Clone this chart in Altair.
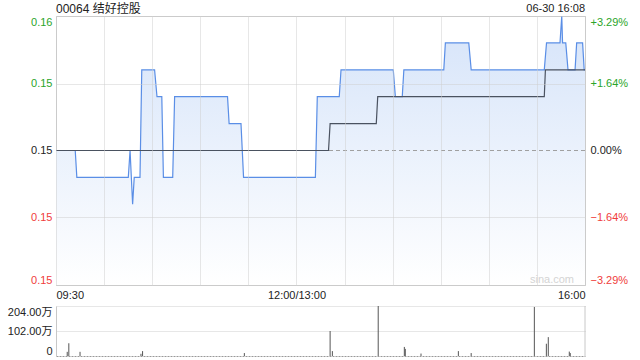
import altair as alt
import pandas as pd

FONT = "Liberation Sans, Arial, Noto Sans CJK SC"
GREEN = "#2aa52a"
RED = "#f03c3c"
BLACK = "#222222"
GRID = "#cfcfcf"

prev_close = 0.152
title_text = "00064 结好控股"
time_text = "06-30 16:08"
watermark = "sina.com"

# price line corner points (minute from 09:30, lunch removed)
price_minutes = [0, 12, 13, 45.1, 46.2, 47.8, 48.8, 52.4, 53.5, 61.5, 63, 66, 67, 72.8, 74,
                 107, 108, 115.4, 117, 161.8, 163, 176.7, 177.8, 210.4, 211.7, 216, 217,
                 241.9, 242.9, 257.5, 259, 304.6, 306, 314.4, 315.5, 316, 318, 319.4,
                 323.8, 324.8, 328.5, 329.5, 330]
price_values = [0.152, 0.152, 0.151, 0.151, 0.152, 0.150, 0.151, 0.151, 0.155, 0.155, 0.154, 0.154, 0.151, 0.151, 0.154,
                0.154, 0.153, 0.153, 0.151, 0.151, 0.154, 0.154, 0.155, 0.155, 0.154, 0.154, 0.155,
                0.155, 0.156, 0.156, 0.155, 0.155, 0.156, 0.156, 0.157, 0.156, 0.156, 0.155,
                0.155, 0.156, 0.156, 0.155, 0.155]

avg_minutes = [0, 170, 171, 199.8, 200.7, 304.6, 305.3, 330]
avg_values = [0.152, 0.152, 0.153, 0.153, 0.154, 0.154, 0.155, 0.155]

vol_minutes = [7, 8, 15, 53, 54, 117.5, 171, 172.4, 201, 217.3, 217.9, 227.7, 251, 259,
               298.4, 305.9, 307.1, 320.2, 320.8]
vol_values = [17, 52, 17, 9, 20, 12, 102, 20, 204, 37, 29, 10, 20, 12,
              200, 50, 77, 18, 12]  # 万

price_ticks = [0.147, 0.14951, 0.152, 0.15449, 0.157]
pct_ticks = [-3.29, -1.64, 0, 1.64, 3.29]
vol_ticks = [0, 102, 204]
x_grid = [0, 30, 60, 90, 120, 150, 180, 210, 240, 270, 300, 330]

price_df = pd.DataFrame({"minute": price_minutes, "price": price_values})
avg_df = pd.DataFrame({"minute": avg_minutes, "price": avg_values})
vol_df = pd.DataFrame({"minute": vol_minutes, "vol": vol_values})

W, H = 529, 269
VH = 50

x_scale = alt.Scale(domain=[0, 330], nice=False, zero=False)
y_scale = alt.Scale(domain=[0.147, 0.157], nice=False, zero=False)

x_axis = alt.Axis(
    values=x_grid,
    labelExpr="datum.value == 0 ? '09:30' : datum.value == 150 ? '12:00/13:00' : datum.value == 330 ? '16:00' : ''",
    labelFlush=True, labelOverlap=False, ticks=False, domain=False,
    grid=True, gridColor=GRID, gridDash=[1, 1], labelPadding=4,
    labelColor=BLACK, labelFontSize=11, title=None, zindex=1,
)

y_axis = alt.Axis(
    values=price_ticks, format=".2f", labelFlush=True, labelOverlap=False,
    ticks=False, domain=False, grid=True, gridColor=GRID, gridDash=[1, 1],
    gridOpacity={"condition": {"test": "abs(datum.value - 0.152) < 0.0001", "value": 0}, "value": 1},
    labelColor={"condition": [{"test": "datum.value > 0.1521", "value": GREEN},
                              {"test": "datum.value < 0.1519", "value": RED}],
                "value": BLACK},
    labelPadding=4, labelFontSize=11, title=None, zindex=1,
)

pct_axis = alt.Axis(
    orient="right", values=pct_ticks,
    labelExpr="(datum.value > 0 ? '+' : '') + format(datum.value, '.2f') + '%'",
    labelFlush=True, labelOverlap=False, ticks=False, domain=False, grid=False,
    labelColor={"condition": [{"test": "datum.value > 0.001", "value": GREEN},
                              {"test": "datum.value < -0.001", "value": RED}],
                "value": BLACK},
    labelPadding=5, labelFontSize=11, title=None,
)

gradient = alt.Gradient(
    gradient="linear",
    stops=[alt.GradientStop(color="#d3e2f9", offset=0),
           alt.GradientStop(color="#ffffff", offset=1)],
    x1=1, x2=1, y1=0, y2=1,
)

base = alt.Chart(price_df)
area = base.mark_area(color=gradient, opacity=0.95).encode(
    x=alt.X("minute:Q", scale=x_scale, axis=x_axis),
    y=alt.Y("price:Q", scale=y_scale, axis=y_axis),
    y2=alt.datum(0.147),
)
zero_rule = alt.Chart(pd.DataFrame({"p": [prev_close]})).mark_rule(
    color="#a0a0a0", strokeDash=[4, 3], strokeWidth=1
).encode(y=alt.Y("p:Q", scale=y_scale))
line = base.mark_line(color="#5a8ee6", strokeWidth=1.2).encode(
    x=alt.X("minute:Q", scale=x_scale),
    y=alt.Y("price:Q", scale=y_scale),
)
avg_line = alt.Chart(avg_df).mark_line(color="#4a5260", strokeWidth=1.2).encode(
    x=alt.X("minute:Q", scale=x_scale),
    y=alt.Y("price:Q", scale=y_scale),
)
pct_layer = base.transform_calculate(
    pct="(datum.price / 0.152 - 1) * 100"
).mark_line(opacity=0).encode(
    x=alt.X("minute:Q", scale=x_scale),
    y=alt.Y("pct:Q", scale=alt.Scale(domain=[-3.29, 3.29], nice=False, zero=False), axis=pct_axis),
)
title_mark = alt.Chart(pd.DataFrame({"t": [title_text]})).mark_text(
    align="left", baseline="middle", fontSize=12, color=BLACK, font=FONT
).encode(text="t:N", x=alt.value(0), y=alt.value(-7))
time_mark = alt.Chart(pd.DataFrame({"t": [time_text]})).mark_text(
    align="right", baseline="middle", fontSize=11, color=BLACK, font=FONT
).encode(text="t:N", x=alt.value(W), y=alt.value(-7))
wm_mark = alt.Chart(pd.DataFrame({"t": [watermark]})).mark_text(
    align="right", baseline="middle", fontSize=11, color="#d4d4d4", font=FONT
).encode(text="t:N", x=alt.value(W - 11), y=alt.value(H - 5))
anchor = alt.Chart(pd.DataFrame({"a": [0]})).mark_rule(opacity=0).encode(
    x=alt.value(-55), y=alt.value(-15), y2=alt.value(0)
)

left_layers = alt.layer(area, wm_mark, zero_rule, line, avg_line, title_mark, time_mark, anchor)
price_chart = alt.layer(left_layers, pct_layer).resolve_scale(y="independent").properties(
    width=W, height=H, view=alt.ViewBackground(stroke="#c8c8c8")
)

vol_bars = alt.Chart(vol_df).mark_rule(color="#555555", strokeWidth=1).encode(
    x=alt.X("minute:Q", scale=x_scale,
            axis=alt.Axis(labels=False, ticks=False, grid=False, domain=True,
                          domainColor="#999999", domainDash=[2, 1], title=None)),
    y=alt.Y("vol:Q", scale=alt.Scale(domain=[0, 204], nice=False, zero=True),
            axis=alt.Axis(values=vol_ticks,
                          labelExpr="datum.value == 0 ? '0' : format(datum.value, '.2f') + '万'",
                          labelFlush=True, labelOverlap=False, grid=True, gridColor=GRID,
                          gridDash=[1, 1],
                          gridOpacity={"condition": {"test": "datum.value == 0", "value": 0}, "value": 1},
                          ticks=False, domain=True, domainColor="#c8c8c8", labelPadding=4,
                          labelColor=BLACK, labelFontSize=11, title=None)),
    y2=alt.datum(0),
)
right_border = alt.Chart(pd.DataFrame({"m": [330]})).mark_rule(color="#c8c8c8").encode(
    x=alt.X("m:Q", scale=x_scale)
)
vol_chart = alt.layer(vol_bars, right_border).properties(width=W, height=VH)

chart = alt.vconcat(price_chart, vol_chart, spacing=21, bounds="flush").properties(
    padding=0
).configure_view(stroke=None).configure_axis(
    labelFont=FONT
).configure_text(font=FONT)

chart.save("out.html", embed_options={"renderer": "svg", "actions": False})
